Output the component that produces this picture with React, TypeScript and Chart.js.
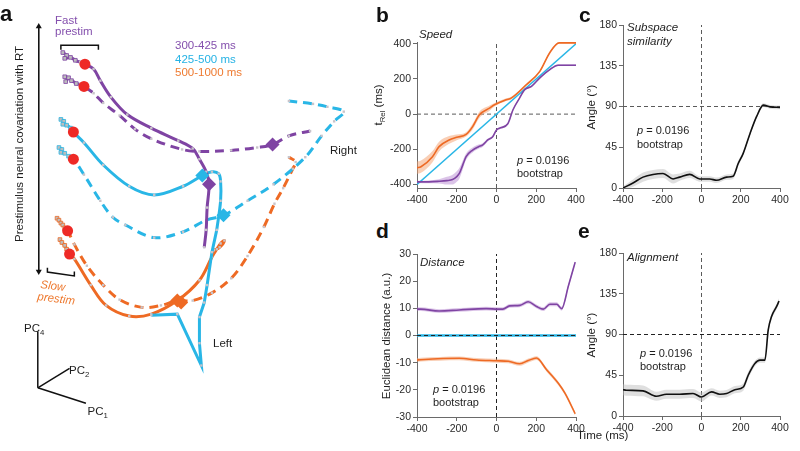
import React, { useEffect, useRef } from "react";
import { Chart, registerables } from "chart.js";
Chart.register(...registerables);

const FONT = "'Liberation Sans', Arial, Helvetica, sans-serif";

// ---------------- Panel a : PC projections (PC1/PC2/PC4 plane, arbitrary units) ----------------
const fastLeftX = [58, 62, 60, 66, 71, 76, 81, 90, 97, 108, 125, 150, 178, 193, 200, 207, 210, 208, 207, 205];
const fastLeftY = [47, 50, 53, 52, 55, 57, 59, 64, 76, 93, 111, 125, 138, 146, 157, 170, 183, 207, 230, 248];
const fastRightX = [60, 64, 61, 67, 72, 76, 80, 90, 100, 117, 133, 150, 182, 200, 233, 260, 276, 293, 315];
const fastRightY = [72, 73, 77, 76, 79, 80, 82, 89, 99, 112, 126, 136, 147, 149, 148, 145, 142, 133, 128];
const midLeftX = [56, 59, 58, 62, 66, 69, 80, 100, 127, 153, 183, 203, 213, 220, 222, 222, 218];
const midLeftY = [116, 118, 121, 122, 125, 129, 140, 163, 185, 194, 185, 174, 170, 172, 180, 200, 230];
const midLeftTailX = [218, 213, 208, 205, 200, 200, 202, 177, 150];
const midLeftTailY = [230, 253, 287, 305, 320, 347, 370, 317, 318];
const midRightX = [54, 57, 56, 60, 64, 69, 80, 97, 110, 123, 153, 183, 207, 225, 250, 277, 310, 327, 340, 350, 333, 318, 293];
const midRightY = [145, 147, 150, 151, 154, 157, 173, 200, 217, 225, 238, 232, 220, 215, 200, 183, 155, 133, 118, 108, 103, 100, 97];
const slowRightX = [52, 54, 56, 58, 60, 63, 70, 83, 100, 117, 140, 160, 177, 193, 213, 233, 250, 267, 278, 287, 297, 300, 293];
const slowRightY = [218, 220, 223, 225, 228, 231, 245, 267, 287, 302, 310, 308, 303, 303, 295, 280, 257, 227, 203, 187, 167, 160, 155];
const slowLeftX = [55, 57, 60, 62, 65, 70, 87, 103, 127, 150, 177, 200, 213, 218, 222, 226, 221, 215];
const slowLeftY = [240, 243, 246, 250, 255, 260, 287, 308, 319, 317, 303, 282, 258, 250, 244, 241, 248, 251];
const startDotX = [81, 80, 69, 69, 63, 65];
const startDotY = [59, 82, 129, 157, 231, 255];
const diamondX = [210, 276, 203, 225, 177, 181];
const diamondY = [183, 142, 174, 215, 303, 305];

// ---------------- Panel b : Speed ----------------
const speedTimeOrange = [-400, -380, -322, -289, -238, -200, -153, -120, -86, -35, -10, 49, 74, 150, 218, 268, 315, 400];
const speedOrange = [-305, -299, -242, -185, -147, -132, -115, -71, -4, 34, 53, 82, 91, 167, 243, 349, 405, 405];
const speedOrangeErr = [35, 35, 32, 28, 22, 16, 12, 16, 18, 15, 10, 8, 8, 7, 6, 5, 4, 4];
const speedTimePurple = [-400, -340, -289, -250, -221, -200, -187, -170, -153, -120, -90, -69, -44, -19, 0, 15, 57, 83, 116, 142, 176, 218, 268, 310, 400];
const speedPurple = [-385, -385, -382, -378, -372, -355, -337, -290, -242, -204, -185, -175, -147, -128, -90, -80, -55, 25, 91, 139, 158, 206, 253, 278, 278];
const speedPurpleErr = [6, 8, 12, 22, 28, 30, 30, 25, 18, 14, 12, 10, 8, 7, 6, 6, 5, 5, 5, 5, 5, 5, 5, 5, 5];
const speedTimeCyan = [-400, 400];
const speedCyan = [-400, 400];

// ---------------- Panel c : Subspace similarity ----------------
const simTime = [-400, -349, -298, -247, -196, -145, -111, -60, -9, 42, 77, 128, 161, 187, 212, 247, 281, 315, 349, 400];
const simAngle = [0, 5.5, 12, 15, 16, 10, 12, 15, 10, 10, 8.5, 12, 13, 27, 38, 60, 79, 91.5, 89.6, 89];
const simErr = [2, 4, 5, 5, 5, 5, 4, 4, 3, 3, 3, 3, 3, 3, 2, 2, 2, 2, 2, 2];

// ---------------- Panel d : Distance ----------------
const distTimePurple = [-400, -381, -289, -187, -52, 7, 32, 66, 117, 159, 201, 235, 269, 303, 328, 362, 396];
const distPurple = [9.7, 9.7, 9, 9.4, 9.9, 9.7, 9.7, 10.9, 11.1, 12.4, 10.7, 9.7, 11.5, 11.5, 9.9, 18.3, 27];
const distTimeOrange = [-400, -381, -187, -100, 0, 60, 117, 160, 201, 252, 311, 345, 396];
const distOrange = [-9, -8.9, -8.4, -9, -9.3, -9.5, -10.4, -9.2, -8.3, -12.6, -17.6, -21.3, -28.8];
const distErr = 0.7;
const distTimeCyan = [-400, 400];
const distCyan = [0, 0];

// ---------------- Panel e : Alignment ----------------
const alignTime = [-400, -383, -298, -230, -179, -111, -43, 0, 51, 93, 128, 170, 213, 238, 272, 298, 323, 340, 357, 383, 395];
const alignAngle = [29, 28.5, 27.7, 21.8, 24, 24, 24.8, 21, 26.6, 24, 24.8, 29, 32, 45, 58, 61.7, 61.7, 95, 110, 121, 127];
const alignErr = [6, 6, 6, 5, 5, 5, 5, 5, 4, 4, 4, 4, 4, 4, 3, 3, 3, 3, 3, 3, 3];

// ---------------- ticks ----------------
const timeTicks = [-400, -200, 0, 200, 400];
const speedTicks = [-400, -200, 0, 200, 400];
const angleTicks = [0, 45, 90, 135, 180];
const distTicks = [-30, -20, -10, 0, 10, 20, 30];

const PURPLE = "#7f44a3";
const CYAN = "#29b6e6";
const ORANGE = "#ee6a24";

const xy = (xs: number[], ys: number[]) => xs.map((x, i) => ({ x, y: ys[i] }));

const PAD = { l: 46, t: 12, r: 16, b: 30 };

function axisOpts(min: number, max: number, ticks: number[], position: string) {
  return {
    type: "linear",
    position,
    min,
    max,
    afterFit: (s: any) => {
      if (position === "left") s.width = PAD.l;
      else s.height = PAD.b;
    },
    afterBuildTicks: (s: any) => {
      s.ticks = ticks.map((v) => ({ value: v }));
    },
    grid: { display: true, drawOnChartArea: false, drawTicks: true, tickLength: 4, color: "#6a6a6a", lineWidth: 1 },
    border: { display: true, color: "#6a6a6a", width: 1 },
    ticks: {
      font: { family: FONT, size: 10.5 },
      color: "#2a2a2a",
      padding: 2,
      maxRotation: 0,
      autoSkip: false,
      callback: (v: any) => String(v),
    },
  };
}

const lineDs = (ts: number[], vs: number[], color: string, extra: any = {}) => ({
  data: xy(ts, vs),
  borderColor: color,
  borderWidth: 1.6,
  pointRadius: 0,
  fill: false,
  cubicInterpolationMode: "monotone",
  order: 1,
  ...extra,
});

const bandDs = (ts: number[], vs: number[], err: number[] | number, color: string) => {
  const e = (i: number) => (Array.isArray(err) ? err[i] : err);
  return [
    {
      data: xy(ts, vs.map((v, i) => v + e(i))),
      borderWidth: 0,
      borderColor: "rgba(0,0,0,0)",
      pointRadius: 0,
      fill: false,
      cubicInterpolationMode: "monotone",
      order: 5,
    },
    {
      data: xy(ts, vs.map((v, i) => v - e(i))),
      borderWidth: 0,
      borderColor: "rgba(0,0,0,0)",
      pointRadius: 0,
      fill: "-1",
      backgroundColor: color,
      cubicInterpolationMode: "monotone",
      order: 5,
    },
  ];
};

const refDs = (xs: number[], ys: number[], color: string) => ({
  data: xy(xs, ys),
  borderColor: color,
  borderWidth: 1,
  borderDash: [4, 3],
  pointRadius: 0,
  fill: false,
  order: 8,
});

function panelConfig(xMin: number, xMax: number, yMin: number, yMax: number, xTicks: number[], yTicks: number[], datasets: any[]) {
  return {
    type: "line",
    data: { datasets },
    options: {
      animation: false,
      responsive: false,
      devicePixelRatio: 1,
      layout: { padding: { left: 0, top: PAD.t, right: PAD.r, bottom: 0 } },
      plugins: { legend: { display: false }, tooltip: { enabled: false } },
      scales: {
        x: axisOpts(xMin, xMax, xTicks, "bottom"),
        y: axisOpts(yMin, yMax, yTicks, "left"),
      },
    },
  };
}

function ChartCanvas({ left, top, width, height, config }: any) {
  const ref = useRef<HTMLCanvasElement>(null);
  useEffect(() => {
    const chart = new Chart(ref.current as HTMLCanvasElement, config);
    return () => chart.destroy();
  }, []);
  return (
    <canvas
      ref={ref}
      width={width}
      height={height}
      style={{ position: "absolute", left, top, width, height }}
    />
  );
}

function Panel({ box, config }: any) {
  const w = box.r - box.l + PAD.l + PAD.r;
  const h = box.b - box.t + PAD.t + PAD.b;
  return <ChartCanvas left={box.l - PAD.l} top={box.t - PAD.t} width={w} height={h} config={config} />;
}

// ---------------- Panel a config ----------------
const traj = (xs: number[], ys: number[], color: string, dashed: boolean, order: number, tension = 0.35, nGray = 5) => ({
  data: xy(xs, ys),
  borderColor: color,
  borderWidth: 3,
  borderDash: dashed ? [9, 6] : [],
  tension,
  fill: false,
  pointStyle: "rect",
  pointRadius: xs.map((_, i) => (i < nGray ? 2.6 : 1.7)),
  pointBackgroundColor: xs.map((_, i) => (i < nGray ? "#bdbdbd" : "#c8c4ca")),
  pointBorderColor: xs.map((_, i) => (i < nGray ? color : "#c0c0c0")),
  pointBorderWidth: xs.map((_, i) => (i < nGray ? 0.8 : 0)),
  order,
});

const blackLine = (xs: number[], ys: number[], w = 1.4) => ({
  data: xy(xs, ys),
  borderColor: "#111",
  borderWidth: w,
  pointRadius: 0,
  fill: false,
  tension: 0,
  order: 2,
});

const panelAConfig = {
  type: "line",
  data: {
    datasets: [
      traj(fastLeftX, fastLeftY, PURPLE, false, 2),
      traj(fastRightX, fastRightY, PURPLE, true, 4),
      traj(midLeftX, midLeftY, CYAN, false, 3),
      traj(midLeftTailX, midLeftTailY, CYAN, false, 3, 0, 0),
      traj(midRightX, midRightY, CYAN, true, 4),
      traj(slowRightX, slowRightY, ORANGE, true, 4),
      traj(slowLeftX, slowLeftY, ORANGE, false, 3),
      {
        data: xy(startDotX, startDotY),
        showLine: false,
        pointRadius: 5.5,
        pointBackgroundColor: "#ee2a26",
        pointBorderWidth: 0,
        order: 0,
      },
      {
        data: xy(diamondX, diamondY),
        showLine: false,
        pointStyle: "rectRot",
        pointRadius: 7,
        pointBackgroundColor: [PURPLE, PURPLE, CYAN, CYAN, ORANGE, ORANGE],
        pointBorderWidth: 0,
        order: 0,
      },
      blackLine([33, 33], [21, 272], 1),
      {
        data: xy([33, 33], [20, 273]),
        showLine: false,
        pointStyle: "triangle",
        pointRadius: 3.5,
        pointRotation: [0, 180],
        pointBackgroundColor: "#111",
        pointBorderWidth: 0,
        order: 2,
      },
      blackLine([56, 56, 95, 95], [44, 39.5, 39.5, 44], 1.5),
      blackLine([42, 42, 70, 70], [269, 273.5, 277.5, 273], 1.5),
      blackLine([32, 32], [393, 335], 1.5),
      blackLine([32, 65], [393, 373], 1.5),
      blackLine([32, 82], [393, 409], 1.5),
    ],
  },
  options: {
    animation: false,
    responsive: false,
    devicePixelRatio: 1,
    layout: { padding: 0 },
    plugins: { legend: { display: false }, tooltip: { enabled: false } },
    scales: {
      x: { type: "linear", min: 0, max: 370, display: false },
      y: { type: "linear", min: 0, max: 451, reverse: true, display: false },
    },
  },
};

// ---------------- Panels b-e configs ----------------
const boxB = { l: 417, r: 576, t: 42, b: 188 };
const boxC = { l: 623, r: 780, t: 25, b: 188 };
const boxD = { l: 417, r: 576, t: 254, b: 417 };
const boxE = { l: 623, r: 780, t: 253, b: 416 };

const configB = panelConfig(-400, 400, -420, 410, timeTicks, speedTicks, [
  lineDs(speedTimeOrange, speedOrange, ORANGE),
  lineDs(speedTimePurple, speedPurple, PURPLE),
  lineDs(speedTimeCyan, speedCyan, CYAN, { cubicInterpolationMode: "default" }),
  ...bandDs(speedTimeOrange, speedOrange, speedOrangeErr, "rgba(244,160,110,0.5)"),
  ...bandDs(speedTimePurple, speedPurple, speedPurpleErr, "rgba(170,115,200,0.42)"),
  refDs([-400, 400], [0, 0], "#5a5a5a"),
  refDs([0, 0], [-420, 410], "#5a5a5a"),
]);

const configC = panelConfig(-400, 400, 0, 180, timeTicks, angleTicks, [
  lineDs(simTime, simAngle, "#111"),
  ...bandDs(simTime, simAngle, simErr, "rgba(185,185,185,0.45)"),
  refDs([-400, 400], [90, 90], "#5a5a5a"),
  refDs([0, 0], [0, 180], "#5a5a5a"),
]);

const configD = panelConfig(-400, 400, -30, 30, timeTicks, distTicks, [
  refDs([-400, 400], [0, 0], "#222"),
  lineDs(distTimePurple, distPurple, PURPLE),
  lineDs(distTimeOrange, distOrange, ORANGE),
  lineDs(distTimeCyan, distCyan, CYAN, { borderWidth: 2.4, order: 2 }),
  ...bandDs(distTimePurple, distPurple, distErr, "rgba(170,115,200,0.4)"),
  ...bandDs(distTimeOrange, distOrange, distErr, "rgba(244,160,110,0.5)"),
  refDs([0, 0], [-30, 30], "#222"),
]);
configD.data.datasets[0].order = 0;

const configE = panelConfig(-400, 400, 0, 180, timeTicks, angleTicks, [
  lineDs(alignTime, alignAngle, "#111"),
  ...bandDs(alignTime, alignAngle, alignErr, "rgba(185,185,185,0.45)"),
  refDs([-400, 400], [90, 90], "#222"),
  refDs([0, 0], [0, 180], "#5a5a5a"),
]);

// ---------------- text helpers ----------------
function Txt({ x, base, size = 11.5, color = "#1e1e1e", italic = false, bold = false, rot = 0, children }: any) {
  return (
    <div
      style={{
        position: "absolute",
        left: x,
        top: base - 0.8465 * size,
        fontSize: size,
        lineHeight: `${size}px`,
        fontFamily: FONT,
        color,
        fontStyle: italic ? "italic" : "normal",
        fontWeight: bold ? 700 : 400,
        whiteSpace: "nowrap",
        transform: rot ? `rotate(${rot}deg)` : undefined,
        transformOrigin: "0% 85%",
      }}
    >
      {children}
    </div>
  );
}

function VTxt({ cx, cy, size = 11.5, children }: any) {
  return (
    <div
      style={{
        position: "absolute",
        left: cx,
        top: cy,
        transform: "translate(-50%,-50%) rotate(-90deg)",
        fontSize: size,
        lineHeight: `${size}px`,
        fontFamily: FONT,
        color: "#1e1e1e",
        whiteSpace: "nowrap",
      }}
    >
      {children}
    </div>
  );
}

const Sub = ({ children }: any) => (
  <span style={{ fontSize: "0.68em", position: "relative", top: "0.32em" }}>{children}</span>
);

function PVal({ x, base }: any) {
  return (
    <>
      <Txt x={x} base={base} size={11}>
        <i>p</i> = 0.0196
      </Txt>
      <Txt x={x} base={base + 13.5} size={11}>
        bootstrap
      </Txt>
    </>
  );
}

export default function App() {
  return (
    <div
      style={{
        position: "fixed",
        left: 0,
        top: 0,
        width: 800,
        height: 451,
        background: "#ffffff",
        overflow: "hidden",
      }}
    >
      <ChartCanvas left={0} top={0} width={370} height={451} config={panelAConfig} />
      <Panel box={boxB} config={configB} />
      <Panel box={boxC} config={configC} />
      <Panel box={boxD} config={configD} />
      <Panel box={boxE} config={configE} />

      {/* panel letters */}
      <Txt x={0} base={22} size={22} bold color="#111">a</Txt>
      <Txt x={376} base={22} size={21} bold color="#111">b</Txt>
      <Txt x={579} base={22} size={21} bold color="#111">c</Txt>
      <Txt x={376} base={238} size={21} bold color="#111">d</Txt>
      <Txt x={578} base={238} size={21} bold color="#111">e</Txt>

      {/* panel a texts */}
      <Txt x={55} base={25} color="#8450ad">Fast</Txt>
      <Txt x={55} base={35.5} color="#8450ad">prestim</Txt>
      <Txt x={175} base={50} color="#8450ad">300-425 ms</Txt>
      <Txt x={175} base={63.5} color="#25b2e4">425-500 ms</Txt>
      <Txt x={175} base={77} color="#ee7a30">500-1000 ms</Txt>
      <Txt x={330} base={155}>Right</Txt>
      <Txt x={213} base={348}>Left</Txt>
      <Txt x={40} base={289} color="#ee7a30" italic rot={7}>Slow</Txt>
      <Txt x={37} base={301} color="#ee7a30" italic rot={7}>prestim</Txt>
      <VTxt cx={20} cy={144}>Prestimulus neural covariation with RT</VTxt>
      <Txt x={24} base={333}>PC<Sub>4</Sub></Txt>
      <Txt x={69} base={375}>PC<Sub>2</Sub></Txt>
      <Txt x={87.5} base={416}>PC<Sub>1</Sub></Txt>

      {/* panel b */}
      <Txt x={419} base={38.5} italic>Speed</Txt>
      <VTxt cx={379} cy={105}>t<Sub>Rel</Sub> (ms)</VTxt>
      <PVal x={517} base={164} />

      {/* panel c */}
      <Txt x={627} base={32} italic>Subspace</Txt>
      <Txt x={627} base={45.5} italic>similarity</Txt>
      <VTxt cx={592} cy={107}>Angle (°)</VTxt>
      <PVal x={637} base={134.5} />

      {/* panel d */}
      <Txt x={420} base={266.5} italic>Distance</Txt>
      <VTxt cx={387} cy={336}>Euclidean distance (a.u.)</VTxt>
      <PVal x={433} base={393} />

      {/* panel e */}
      <Txt x={627} base={261.5} italic>Alignment</Txt>
      <VTxt cx={592} cy={335}>Angle (°)</VTxt>
      <PVal x={640} base={357} />

      <Txt x={577} base={440}>Time (ms)</Txt>
    </div>
  );
}
